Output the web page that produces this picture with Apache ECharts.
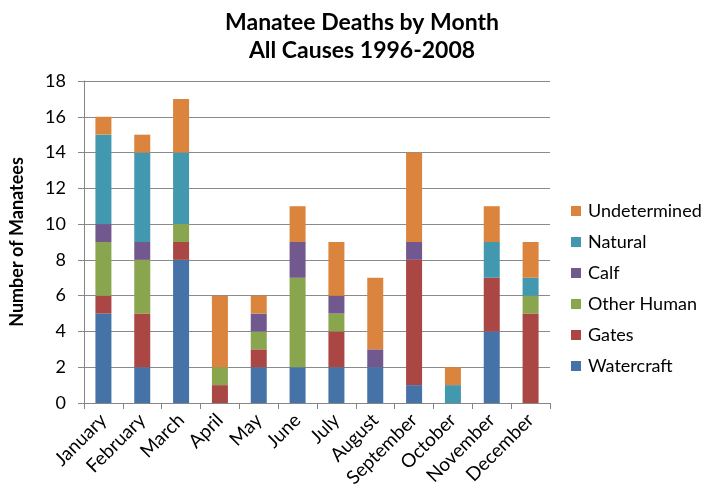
<!DOCTYPE html>
<html>
<head>
<meta charset="utf-8">
<script src="https://cdn.jsdelivr.net/npm/echarts@6/dist/echarts.min.js"></script>
<style>
html, body { margin: 0; padding: 0; background: #fff; }
#chart { width: 708px; height: 498px; }
</style>
</head>
<body>
<div id="chart"></div>
<script>
var months = ['January', 'February', 'March', 'April', 'May', 'June', 'July', 'August', 'September', 'October', 'November', 'December'];
var watercraft   = [5, 2, 8, 0, 2, 2, 2, 2, 1, 0, 4, 0];
var gates        = [1, 3, 1, 1, 1, 0, 2, 0, 7, 0, 3, 5];
var otherHuman   = [3, 3, 1, 1, 1, 5, 1, 0, 0, 0, 0, 1];
var calf         = [1, 1, 0, 0, 1, 2, 1, 1, 1, 0, 0, 0];
var natural      = [5, 5, 4, 0, 0, 0, 0, 0, 0, 1, 2, 1];
var undetermined = [1, 1, 3, 4, 1, 2, 3, 4, 5, 1, 2, 2];

var seriesNames = ['Watercraft', 'Gates', 'Other Human', 'Calf', 'Natural', 'Undetermined'];
var seriesData = [watercraft, gates, otherHuman, calf, natural, undetermined];
var colors = ['#4572A7', '#AA4643', '#89A54E', '#71588F', '#4198AF', '#DB843D'];

var font = 'Lato, "Open Sans", sans-serif';

var myChart = echarts.init(document.getElementById('chart'));
var option = {
    animation: false,
    color: colors,
    title: {
        text: 'Manatee Deaths by Month\nAll Causes 1996-2008',
        left: 357,
        textAlign: 'center',
        top: 4,
        textStyle: {
            fontFamily: font,
            fontSize: 23,
            fontWeight: 'bold',
            color: '#000',
            lineHeight: 28
        }
    },
    legend: {
        orient: 'vertical',
        left: 566,
        top: 197,
        itemWidth: 10,
        itemHeight: 10,
        itemGap: 13,
        icon: 'rect',
        data: seriesNames.slice().reverse(),
        textStyle: { fontFamily: font, fontSize: 18, color: '#000', padding: [0, 0, 0, 2] }
    },
    grid: { left: 78, right: 158, top: 81, bottom: 95 },
    xAxis: {
        type: 'category',
        data: months,
        axisLine: { lineStyle: { color: '#868686' } },
        axisTick: { show: true, length: 6, lineStyle: { color: '#868686' } },
        axisLabel: {
            rotate: 45,
            interval: 0,
            margin: 14,
            fontFamily: font,
            fontSize: 19,
            color: '#000'
        }
    },
    yAxis: {
        type: 'value',
        min: 0,
        max: 18,
        interval: 2,
        name: 'Number of Manatees',
        nameLocation: 'middle',
        nameGap: 58,
        nameTextStyle: { fontFamily: font, fontSize: 18, fontWeight: 'bold', color: '#000' },
        axisLine: { show: true, lineStyle: { color: '#868686' } },
        axisTick: { show: true, length: 6, lineStyle: { color: '#868686' } },
        axisLabel: { fontFamily: font, fontSize: 18, color: '#000', margin: 18 },
        splitLine: { lineStyle: { color: '#8a8a8a' } }
    },
    series: seriesNames.map(function (name, i) {
        return {
            name: name,
            type: 'bar',
            stack: 'total',
            barWidth: 16,
            data: seriesData[i]
        };
    })
};
myChart.setOption(option);
</script>
</body>
</html>
